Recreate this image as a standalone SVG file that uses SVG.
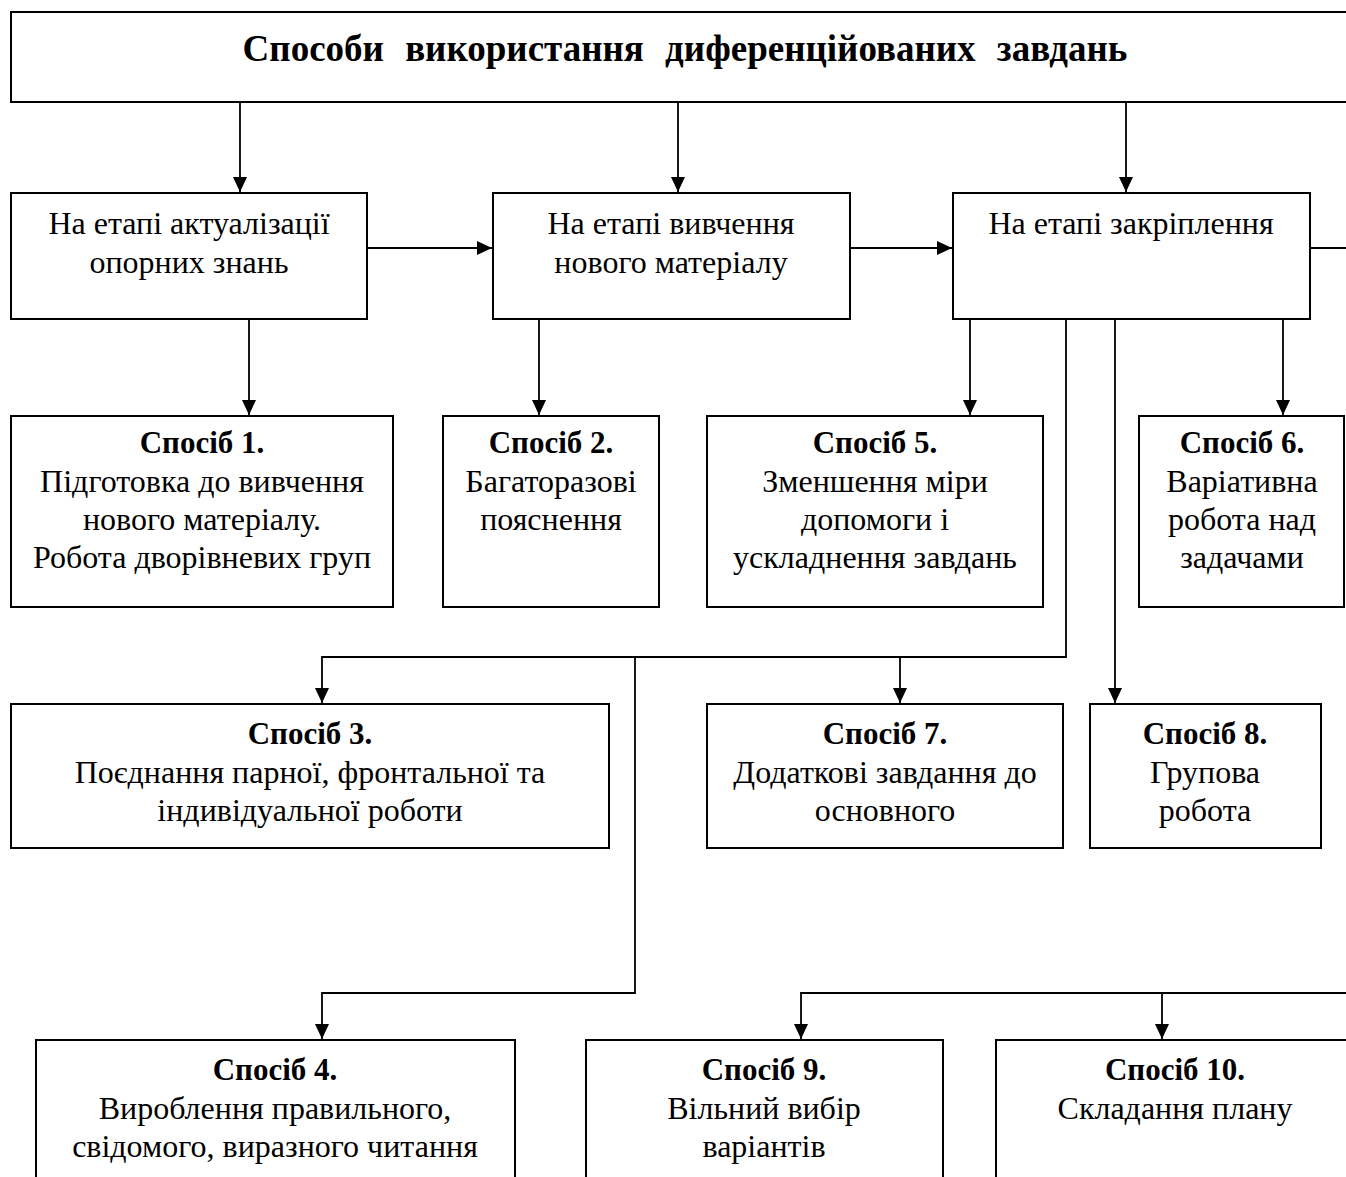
<svg xmlns="http://www.w3.org/2000/svg" width="1346" height="1177" viewBox="0 0 1346 1177">
<style>
.box{fill:#fff;stroke:#000;stroke-width:2}
.ln{fill:none;stroke:#000;stroke-width:1.8}
text{font-family:"Liberation Serif","Times New Roman",serif;fill:#000;text-anchor:middle}
.t{font-size:37px;font-weight:bold;word-spacing:12px}
.h{font-size:31px;font-weight:bold}
.b{font-size:32px}
</style>
<defs>
<marker id="ar" markerUnits="userSpaceOnUse" markerWidth="16" markerHeight="16" viewBox="0 0 16 16" refX="15" refY="8" orient="auto">
<path d="M0,1 L15,8 L0,15 Z" fill="#000"/>
</marker>
</defs>
<g id="connectors">
<path class="ln" d="M240,102 V192" marker-end="url(#ar)"/>
<path class="ln" d="M678,102 V192" marker-end="url(#ar)"/>
<path class="ln" d="M1126,102 V192" marker-end="url(#ar)"/>
<path class="ln" d="M367,248 H492" marker-end="url(#ar)"/>
<path class="ln" d="M850,248 H952" marker-end="url(#ar)"/>
<path class="ln" d="M1310,248 H1346"/>
<path class="ln" d="M249,319 V415" marker-end="url(#ar)"/>
<path class="ln" d="M539,319 V415" marker-end="url(#ar)"/>
<path class="ln" d="M970,319 V415" marker-end="url(#ar)"/>
<path class="ln" d="M1283,319 V415" marker-end="url(#ar)"/>
<path class="ln" d="M1066,319 V657 H322 V703" marker-end="url(#ar)"/>
<path class="ln" d="M900,657 V703" marker-end="url(#ar)"/>
<path class="ln" d="M635,657 V993 H322 V1039" marker-end="url(#ar)"/>
<path class="ln" d="M1115,319 V703" marker-end="url(#ar)"/>
<path class="ln" d="M1346,993 H801 V1039" marker-end="url(#ar)"/>
<path class="ln" d="M1162,993 V1039" marker-end="url(#ar)"/>
</g>
<g id="title">
<rect class="box" x="11" y="12" width="1350" height="90"/>
<text class="t" x="685" y="61">Способи використання диференційованих завдань</text>
</g>
<g id="stage1">
<rect class="box" x="11" y="193" width="356" height="126"/>
<text class="b" x="189" y="234">На етапі актуалізації</text>
<text class="b" x="189" y="273">опорних знань</text>
</g>
<g id="stage2">
<rect class="box" x="493" y="193" width="357" height="126"/>
<text class="b" x="671" y="234">На етапі вивчення</text>
<text class="b" x="671" y="273">нового матеріалу</text>
</g>
<g id="stage3">
<rect class="box" x="953" y="193" width="357" height="126"/>
<text class="b" x="1131" y="234">На етапі закріплення</text>
</g>
<g id="s1">
<rect class="box" x="11" y="416" width="382" height="191"/>
<text class="h" x="202" y="453">Спосіб 1.</text>
<text class="b" x="202" y="492">Підготовка до вивчення</text>
<text class="b" x="202" y="530">нового матеріалу.</text>
<text class="b" x="202" y="568">Робота дворівневих груп</text>
</g>
<g id="s2">
<rect class="box" x="443" y="416" width="216" height="191"/>
<text class="h" x="551" y="453">Спосіб 2.</text>
<text class="b" x="551" y="492">Багаторазові</text>
<text class="b" x="551" y="530">пояснення</text>
</g>
<g id="s5">
<rect class="box" x="707" y="416" width="336" height="191"/>
<text class="h" x="875" y="453">Спосіб 5.</text>
<text class="b" x="875" y="492">Зменшення міри</text>
<text class="b" x="875" y="530">допомоги і</text>
<text class="b" x="875" y="568">ускладнення завдань</text>
</g>
<g id="s6">
<rect class="box" x="1139" y="416" width="205" height="191"/>
<text class="h" x="1242" y="453">Спосіб 6.</text>
<text class="b" x="1242" y="492">Варіативна</text>
<text class="b" x="1242" y="530">робота над</text>
<text class="b" x="1242" y="568">задачами</text>
</g>
<g id="s3">
<rect class="box" x="11" y="704" width="598" height="144"/>
<text class="h" x="310" y="744">Спосіб 3.</text>
<text class="b" x="310" y="783">Поєднання парної, фронтальної та</text>
<text class="b" x="310" y="821">індивідуальної роботи</text>
</g>
<g id="s7">
<rect class="box" x="707" y="704" width="356" height="144"/>
<text class="h" x="885" y="744">Спосіб 7.</text>
<text class="b" x="885" y="783">Додаткові завдання до</text>
<text class="b" x="885" y="821">основного</text>
</g>
<g id="s8">
<rect class="box" x="1090" y="704" width="231" height="144"/>
<text class="h" x="1205" y="744">Спосіб 8.</text>
<text class="b" x="1205" y="783">Групова</text>
<text class="b" x="1205" y="821">робота</text>
</g>
<g id="s4">
<rect class="box" x="36" y="1040" width="479" height="160"/>
<text class="h" x="275" y="1080">Спосіб 4.</text>
<text class="b" x="275" y="1119">Вироблення правильного,</text>
<text class="b" x="275" y="1157">свідомого, виразного читання</text>
</g>
<g id="s9">
<rect class="box" x="586" y="1040" width="357" height="160"/>
<text class="h" x="764" y="1080">Спосіб 9.</text>
<text class="b" x="764" y="1119">Вільний вибір</text>
<text class="b" x="764" y="1157">варіантів</text>
</g>
<g id="s10">
<rect class="box" x="996" y="1040" width="380" height="160"/>
<text class="h" x="1175" y="1080">Спосіб 10.</text>
<text class="b" x="1175" y="1119">Складання плану</text>
</g>
</svg>
